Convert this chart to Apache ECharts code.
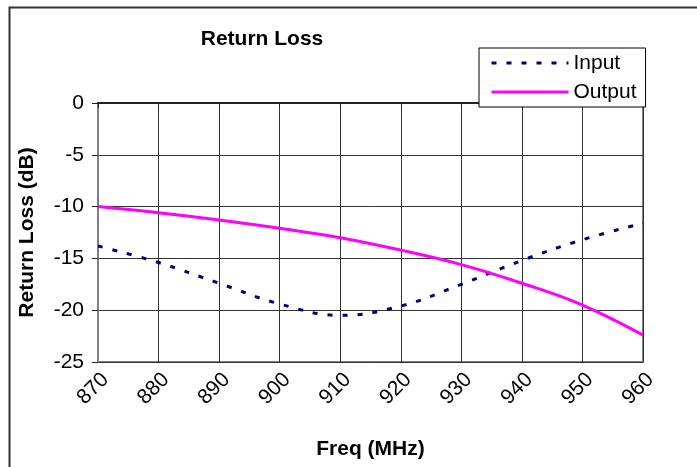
<!DOCTYPE html>
<html>
<head>
<meta charset="utf-8">
<script src="https://cdn.jsdelivr.net/npm/echarts@6/dist/echarts.min.js"></script>
<style>
html,body{margin:0;padding:0;background:#fff;}
#chart{width:697px;height:467px;}
</style>
</head>
<body>
<div id="chart"></div>
<script>
var freqs = ['870','880','890','900','910','920','930','940','950','960'];
var inputLoss = [-13.8,-15.4,-17.4,-19.4,-20.5,-19.6,-17.5,-15.2,-13.2,-11.6];
var outputLoss = [-10.0,-10.6,-11.3,-12.1,-13.0,-14.2,-15.6,-17.4,-19.5,-22.4];
var yTicks = {min:-25, max:0, step:5};

var FONT = '"Liberation Sans", Arial, sans-serif';
var chart = echarts.init(document.getElementById('chart'), null, {renderer:'canvas'});
chart.setOption({
  backgroundColor:'#fff',
  animation:false,
  title:{
    text:'Return Loss',
    left:257, top:24, textAlign:'center',
    textStyle:{fontFamily:FONT, fontSize:21, fontWeight:'bold', color:'#000'}
  },
  legend:{
    left:479, top:48, orient:'vertical',
    backgroundColor:'#fff', borderColor:'#000', borderWidth:1,
    padding:[4,9,4,11], itemGap:7, itemWidth:77, itemHeight:14,
    itemStyle:{opacity:0},
    lineStyle:{width:3},
    textStyle:{fontFamily:FONT, fontSize:21, color:'#000', lineHeight:22},
    data:['Input','Output']
  },
  graphic:[{
    type:'rect', left:7, top:5, z:-10,
    shape:{width:720, height:500},
    style:{fill:null, stroke:'#333', lineWidth:2}
  }],
  grid:{left:98, right:54, top:103, bottom:105, show:true, borderColor:'#808080', borderWidth:2},
  xAxis:{
    type:'category', data:freqs, boundaryGap:false,
    name:'Freq (MHz)', nameLocation:'middle', nameGap:77,
    nameTextStyle:{fontFamily:FONT, fontSize:21, fontWeight:'bold', color:'#000'},
    axisLine:{lineStyle:{color:'#222', width:2}},
    axisTick:{show:true, length:5, lineStyle:{color:'#222'}},
    axisLabel:{rotate:45, margin:7, verticalAlign:'top', fontFamily:FONT, fontSize:21, color:'#000'},
    splitLine:{show:true, lineStyle:{color:'#333', width:1}}
  },
  yAxis:{
    type:'value', min:yTicks.min, max:yTicks.max, interval:yTicks.step,
    name:'Return Loss (dB)', nameLocation:'middle', nameGap:60, nameRotate:90,
    nameTextStyle:{fontFamily:FONT, fontSize:21, fontWeight:'bold', color:'#000'},
    axisLine:{show:true, lineStyle:{color:'#808080', width:2}},
    axisTick:{show:true, length:6, lineStyle:{color:'#222'}},
    axisLabel:{margin:14, fontFamily:FONT, fontSize:21, color:'#000'},
    splitLine:{show:true, lineStyle:{color:'#333', width:1}}
  },
  series:[
    {name:'Input', type:'line', data:inputLoss, smooth:0.4, symbol:'none',
     lineStyle:{color:'#000080', width:3, type:[5,10]}, itemStyle:{color:'#000080'}},
    {name:'Output', type:'line', data:outputLoss, smooth:0.4, symbol:'none',
     lineStyle:{color:'#FF00FF', width:3}, itemStyle:{color:'#FF00FF'}}
  ]
});
</script>
</body>
</html>
